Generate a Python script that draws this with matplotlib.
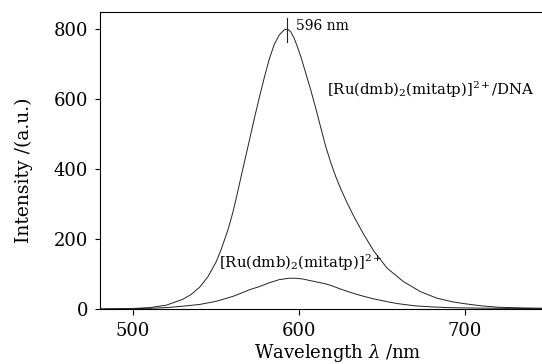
import matplotlib
matplotlib.use("Agg")
import matplotlib.pyplot as plt

plt.rcParams['font.family'] = ['DejaVu Serif']
plt.rcParams['mathtext.fontset'] = 'dejavuserif'

# DNA-bound complex emission
wl_dna = [480, 490, 500, 510, 520, 530, 535, 540, 545, 550, 553, 557, 560, 562, 565,
          567, 570, 573, 576, 579, 582, 585, 588, 591, 593, 595, 597, 599, 601, 604,
          607, 610, 613, 616, 619, 622, 625, 629, 633, 639, 645, 653, 663, 673, 683,
          693, 700, 710, 720, 735, 750]
int_dna = [0, 0.5, 1.5, 4, 11, 28, 42, 62, 92, 135, 170, 225, 275, 315, 378,
           420, 482, 545, 605, 662, 715, 757, 784, 799, 801, 793, 775, 750, 723, 675,
           627, 575, 520, 466, 420, 380, 345, 303, 265, 213, 166, 117, 78, 50, 31,
           20, 15, 9, 5, 3, 2]

# free complex emission
wl_free = [480, 500, 510, 520, 530, 540, 550, 560, 566, 570, 576, 582, 588, 594, 598,
           602, 607, 612, 616, 620, 625, 630, 635, 640, 645, 650, 655, 660, 670, 680,
           690, 700, 720, 750]
int_free = [0, 1, 2, 4, 8, 13, 22, 36, 47, 55, 64, 75, 84, 88, 88,
            86, 81, 76, 72, 66, 57, 49, 41.5, 35, 29, 24, 19, 15, 9, 6,
            4, 3, 2, 1]

peak_wl = 592.8
peak_label = "596 nm"
label_dna = r"[Ru(dmb)$_2$(mitatp)]$^{2+}$/DNA"
label_free = r"[Ru(dmb)$_2$(mitatp)]$^{2+}$"

fig = plt.figure(figsize=(5.42, 3.64), dpi=100)
ax = fig.add_axes([100/542, 55/364, 448/542, 297/364])

ax.plot(wl_dna, int_dna, color='#222222', lw=0.7)
ax.plot(wl_free, int_free, color='#222222', lw=0.7)

ax.plot([peak_wl, peak_wl], [765, 834], color='#222222', lw=0.8)
ax.text(peak_wl + 5.5, 811, peak_label, fontsize=10, va='center', ha='left')
ax.text(617, 627, label_dna, fontsize=10.75, va='center', ha='left')
ax.text(552, 132, label_free, fontsize=10.75, va='center', ha='left')

ax.set_xlim(480, 750)
ax.set_ylim(0, 850)
ax.set_xticks([500, 600, 700])
ax.set_yticks([0, 200, 400, 600, 800])
ax.tick_params(direction='out', width=0.8, labelsize=13)
ax.tick_params(axis='x', length=4.5, pad=4.5)
ax.tick_params(axis='y', length=3.6, pad=5)
ax.spines['right'].set_visible(False)
for s in ['left', 'top', 'bottom']:
    ax.spines[s].set_linewidth(0.8)

ax.set_xlabel(r"Wavelength $\lambda$ /nm", fontsize=13)
ax.xaxis.set_label_coords(0.531, -0.112)
ax.set_ylabel("Intensity /(a.u.)", fontsize=13.5)
ax.yaxis.set_label_coords(-0.150, 0.468)

fig.savefig("out.png", dpi=100)
